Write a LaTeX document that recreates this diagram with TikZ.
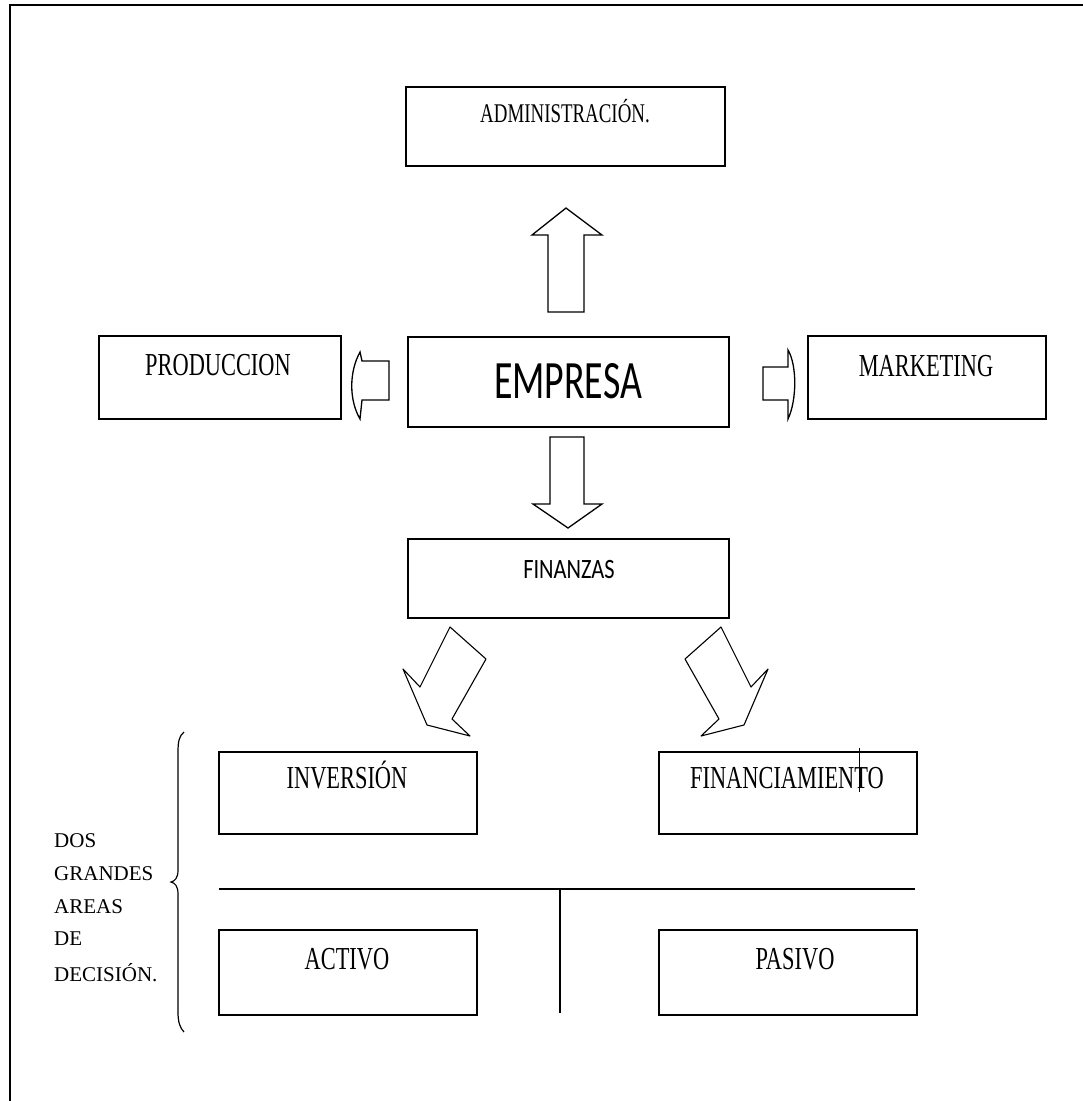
\documentclass[tikz,border=0pt]{standalone}
\usepackage{fontspec}
\newfontfamily\boxfont[FakeStretch=0.7]{Liberation Serif}
\newfontfamily\sidefont{Liberation Serif}
\newfontfamily\empfont[FakeStretch=0.7]{Carlito}
\newfontfamily\finfont[FakeStretch=0.8]{Carlito}
\begin{document}
\begin{tikzpicture}[x=1pt,y=-1pt,
  frame/.style={draw, line width=1.6pt, inner sep=0pt, outer sep=0pt},
  lbl/.style={anchor=base, inner sep=0pt, font=\boxfont\fontsize{32}{32}\selectfont},
  blockarrow/.style={draw, line width=1.3pt, line join=miter},
  slantarrow/.style={draw, line width=1.1pt, line join=round}]
\useasboundingbox (0,0) rectangle (1083,1101);
\fill[white] (0,0) rectangle (1083,1101);
% page edge
\draw[line width=1.5pt] (10,1101) -- (10,5) -- (1083,5);

% boxes
\node[frame, minimum width=319pt, minimum height=79pt] (adm) at (565.5,126.5) {};
\node[frame, minimum width=321pt, minimum height=90pt] (emp) at (568.5,382) {};
\node[frame, minimum width=321pt, minimum height=79pt] (fin) at (568.5,578.5) {};
\node[frame, minimum width=242pt, minimum height=83pt] (prod) at (220,377.5) {};
\node[frame, minimum width=238pt, minimum height=83pt] (mkt) at (927,377.5) {};
\node[frame, minimum width=258pt, minimum height=82pt] (inv) at (348,793) {};
\node[frame, minimum width=258pt, minimum height=82pt] (fto) at (788,793) {};
\node[frame, minimum width=258pt, minimum height=85pt] (act) at (348,972.5) {};
\node[frame, minimum width=258pt, minimum height=85pt] (pas) at (788,972.5) {};

% box labels
\node[lbl, font=\boxfont\fontsize{27}{27}\selectfont] (tadm) at (565,122) {ADMINISTRACIÓN.};
\node[lbl, font=\empfont\fontsize{54}{54}\selectfont] (temp) at (568,398) {EMPRESA};
\node[lbl, font=\finfont\fontsize{28}{28}\selectfont] (tfin) at (569,578) {FINANZAS};
\node[lbl] (tprod) at (218,375) {PRODUCCION};
\node[lbl] (tmkt) at (926,376) {MARKETING};
\node[lbl] (tinv) at (347,788) {INVERSIÓN};
\node[lbl] (tfto) at (787,788) {FINANCIAMIENTO};
\node[lbl] (tact) at (347,969) {ACTIVO};
\node[lbl] (tpas) at (795,969) {PASIVO};
\draw[line width=1pt] (859,748) -- (859,792);

% block arrows around EMPRESA
\draw[blockarrow] (548,312) -- (548,235) -- (532,235) -- (566,208) -- (602,235) -- (584,235) -- (584,312) -- cycle;
\draw[blockarrow] (550,437) -- (584,437) -- (584,504) -- (602,504) -- (568,528) -- (533,504) -- (550,504) -- cycle;
\draw[blockarrow] (389,361) -- (362,361) -- (360,352) .. controls (349,372) and (349,400) .. (360,419) -- (362,400) -- (389,400) -- cycle;
\draw[blockarrow] (763,367) -- (788,367) -- (788,350) .. controls (797,365) and (797,400) .. (788,419) -- (788,400) -- (763,400) -- cycle;

% slanted arrows below FINANZAS
\draw[slantarrow] (450,627) -- (486,659) -- (452,719) -- (470,736) -- (427,725) -- (403,669) -- (420,687) -- cycle;
\draw[slantarrow] (721,627) -- (685,659) -- (719,719) -- (701,736) -- (744,725) -- (768,669) -- (751,687) -- cycle;

% divider lines
\coordinate (hl) at (219,889);
\coordinate (hr) at (915,889);
\coordinate (vt) at (560,889);
\coordinate (vb) at (560,1013);
\draw[line width=1.6pt] (hl) -- (hr);
\draw[line width=1.4pt] (vt) -- (vb);

% brace
\draw[line width=1.2pt] (184,732) .. controls (179,736) and (178,742) .. (178,752)
  -- (178,870) .. controls (178,878) and (175,881) .. (171,882)
  .. controls (175,883) and (178,886) .. (178,894)
  -- (178,1012) .. controls (178,1022) and (180,1028) .. (184,1032);

% side label
\begin{scope}[every node/.style={anchor=base west, inner sep=0pt, font=\sidefont\fontsize{21}{21}\selectfont}]
\node (s1) at (54,847) {DOS};
\node (s2) at (54,880) {GRANDES};
\node (s3) at (54,913) {AREAS};
\node (s4) at (54,945) {DE};
\node (s5) at (54,981) {DECISIÓN.};
\end{scope}
\end{tikzpicture}
\end{document}
